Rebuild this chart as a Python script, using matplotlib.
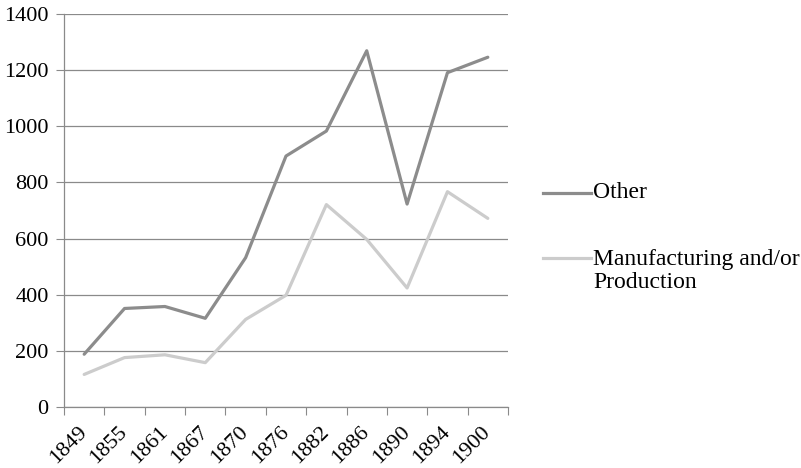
import matplotlib
matplotlib.use("Agg")
import matplotlib.pyplot as plt
from matplotlib.lines import Line2D
import numpy as np

years = ["1849", "1855", "1861", "1867", "1870", "1876", "1882", "1886", "1890", "1894", "1900"]
other = [188, 351, 358, 316, 532, 894, 983, 1269, 723, 1191, 1246]
manufacturing = [116, 176, 186, 158, 312, 398, 721, 597, 424, 767, 672]
series_names = ["Other", "Manufacturing and/or\nProduction"]
series_colors = ["#8c8c8c", "#cccccc"]

plt.rcParams["font.family"] = "serif"
plt.rcParams["font.serif"] = ["Liberation Serif", "DejaVu Serif"]
plt.rcParams["font.size"] = 16

W, H = 801, 468
fig = plt.figure(figsize=(W / 100, H / 100), dpi=100)
ax = fig.add_axes([64 / W, 61 / H, 444 / W, 393 / H])

x = np.arange(len(years))
for vals, col in zip([other, manufacturing], series_colors):
    ax.plot(x, vals, color=col, lw=2.3, solid_joinstyle="round", solid_capstyle="round")

ax.set_xlim(-0.5, len(years) - 0.5)
ax.set_ylim(0, 1400)
ax.set_yticks(np.arange(0, 1401, 200))
ax.yaxis.grid(True, color="#8a8a8a", lw=0.9)
ax.set_axisbelow(True)

# category ticks sit between categories, labels at category centers
ax.set_xticks(np.arange(-0.5, len(years), 1.0))
ax.set_xticklabels([])
ax.set_xticks(x, minor=True)
ax.set_xticklabels(years, minor=True, rotation=45, ha="right", va="center",
                   rotation_mode="anchor")
ax.tick_params(axis="x", which="minor", length=0, pad=16)
ax.tick_params(axis="x", which="major", length=6, color="#8a8a8a", direction="out")
ax.tick_params(axis="y", length=6, color="#8a8a8a", direction="out", pad=5)

for s in ["top", "right"]:
    ax.spines[s].set_visible(False)
for s in ["left", "bottom"]:
    ax.spines[s].set_color("#8a8a8a")
    ax.spines[s].set_linewidth(0.9)

# legend drawn on the figure, handle level with the first text line
legend_rows = [193, 258]
line_px = 26
for name, col, yy in zip(series_names, series_colors, legend_rows):
    fy = 1 - yy / H
    fig.add_artist(Line2D([543 / W, 591 / W], [fy, fy], color=col, lw=2.3,
                          transform=fig.transFigure))
    n_lines = name.count("\n") + 1
    ty = 1 - (yy + (n_lines - 1) * line_px / 2) / H
    fig.text(593 / W, ty, name, ha="left", va="center", fontsize=17,
             linespacing=1.12, transform=fig.transFigure)

fig.savefig("out.png", dpi=100)
